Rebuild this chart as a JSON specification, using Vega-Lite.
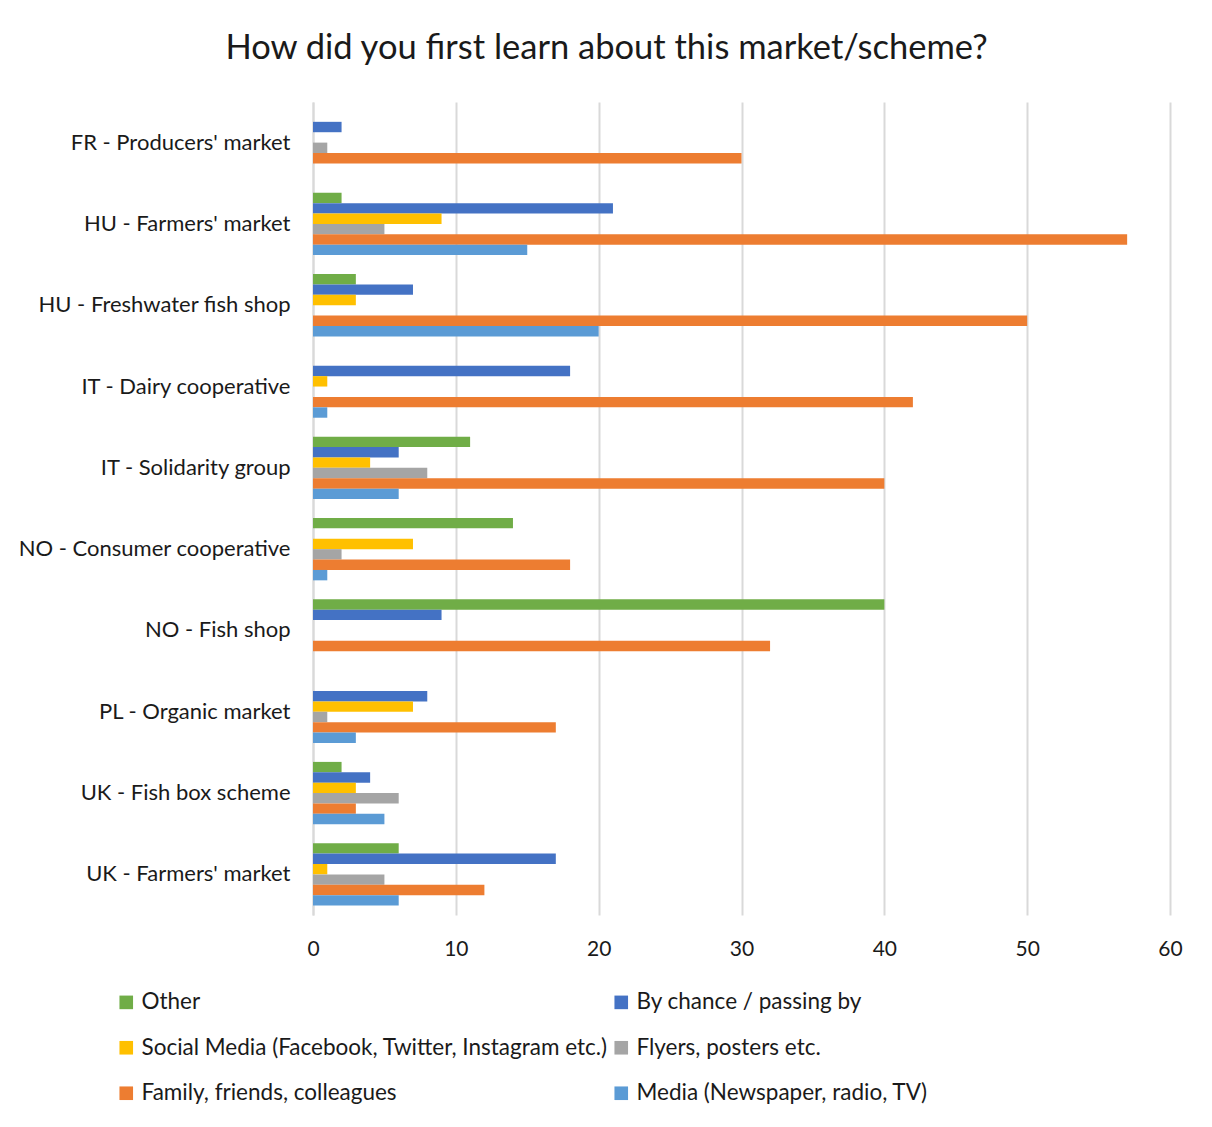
{
  "$schema": "https://vega.github.io/schema/vega-lite/v6.json",
  "autosize": {"type": "none"},
  "width": 857,
  "height": 813,
  "padding": {"left": 313, "top": 102, "right": 42, "bottom": 212},
  "background": "white",
  "title": {
    "text": "How did you first learn about this market/scheme?",
    "font": "Lato",
    "fontSize": 34.5,
    "fontWeight": "normal",
    "color": "#1a1a1a",
    "anchor": "middle",
    "dx": -135,
    "offset": 36
  },
  "data": {
    "values": [
      {"market": "FR - Producers' market", "source": "Other", "value": 0},
      {"market": "FR - Producers' market", "source": "By chance / passing by", "value": 2},
      {"market": "FR - Producers' market", "source": "Social Media (Facebook, Twitter, Instagram etc.)", "value": 0},
      {"market": "FR - Producers' market", "source": "Flyers, posters etc.", "value": 1},
      {"market": "FR - Producers' market", "source": "Family, friends, colleagues", "value": 30},
      {"market": "FR - Producers' market", "source": "Media (Newspaper, radio, TV)", "value": 0},
      {"market": "HU - Farmers' market", "source": "Other", "value": 2},
      {"market": "HU - Farmers' market", "source": "By chance / passing by", "value": 21},
      {"market": "HU - Farmers' market", "source": "Social Media (Facebook, Twitter, Instagram etc.)", "value": 9},
      {"market": "HU - Farmers' market", "source": "Flyers, posters etc.", "value": 5},
      {"market": "HU - Farmers' market", "source": "Family, friends, colleagues", "value": 57},
      {"market": "HU - Farmers' market", "source": "Media (Newspaper, radio, TV)", "value": 15},
      {"market": "HU - Freshwater fish shop", "source": "Other", "value": 3},
      {"market": "HU - Freshwater fish shop", "source": "By chance / passing by", "value": 7},
      {"market": "HU - Freshwater fish shop", "source": "Social Media (Facebook, Twitter, Instagram etc.)", "value": 3},
      {"market": "HU - Freshwater fish shop", "source": "Flyers, posters etc.", "value": 0},
      {"market": "HU - Freshwater fish shop", "source": "Family, friends, colleagues", "value": 50},
      {"market": "HU - Freshwater fish shop", "source": "Media (Newspaper, radio, TV)", "value": 20},
      {"market": "IT - Dairy cooperative", "source": "Other", "value": 0},
      {"market": "IT - Dairy cooperative", "source": "By chance / passing by", "value": 18},
      {"market": "IT - Dairy cooperative", "source": "Social Media (Facebook, Twitter, Instagram etc.)", "value": 1},
      {"market": "IT - Dairy cooperative", "source": "Flyers, posters etc.", "value": 0},
      {"market": "IT - Dairy cooperative", "source": "Family, friends, colleagues", "value": 42},
      {"market": "IT - Dairy cooperative", "source": "Media (Newspaper, radio, TV)", "value": 1},
      {"market": "IT - Solidarity group", "source": "Other", "value": 11},
      {"market": "IT - Solidarity group", "source": "By chance / passing by", "value": 6},
      {"market": "IT - Solidarity group", "source": "Social Media (Facebook, Twitter, Instagram etc.)", "value": 4},
      {"market": "IT - Solidarity group", "source": "Flyers, posters etc.", "value": 8},
      {"market": "IT - Solidarity group", "source": "Family, friends, colleagues", "value": 40},
      {"market": "IT - Solidarity group", "source": "Media (Newspaper, radio, TV)", "value": 6},
      {"market": "NO - Consumer cooperative", "source": "Other", "value": 14},
      {"market": "NO - Consumer cooperative", "source": "By chance / passing by", "value": 0},
      {"market": "NO - Consumer cooperative", "source": "Social Media (Facebook, Twitter, Instagram etc.)", "value": 7},
      {"market": "NO - Consumer cooperative", "source": "Flyers, posters etc.", "value": 2},
      {"market": "NO - Consumer cooperative", "source": "Family, friends, colleagues", "value": 18},
      {"market": "NO - Consumer cooperative", "source": "Media (Newspaper, radio, TV)", "value": 1},
      {"market": "NO - Fish shop", "source": "Other", "value": 40},
      {"market": "NO - Fish shop", "source": "By chance / passing by", "value": 9},
      {"market": "NO - Fish shop", "source": "Social Media (Facebook, Twitter, Instagram etc.)", "value": 0},
      {"market": "NO - Fish shop", "source": "Flyers, posters etc.", "value": 0},
      {"market": "NO - Fish shop", "source": "Family, friends, colleagues", "value": 32},
      {"market": "NO - Fish shop", "source": "Media (Newspaper, radio, TV)", "value": 0},
      {"market": "PL - Organic market", "source": "Other", "value": 0},
      {"market": "PL - Organic market", "source": "By chance / passing by", "value": 8},
      {"market": "PL - Organic market", "source": "Social Media (Facebook, Twitter, Instagram etc.)", "value": 7},
      {"market": "PL - Organic market", "source": "Flyers, posters etc.", "value": 1},
      {"market": "PL - Organic market", "source": "Family, friends, colleagues", "value": 17},
      {"market": "PL - Organic market", "source": "Media (Newspaper, radio, TV)", "value": 3},
      {"market": "UK -  Fish box scheme", "source": "Other", "value": 2},
      {"market": "UK -  Fish box scheme", "source": "By chance / passing by", "value": 4},
      {"market": "UK -  Fish box scheme", "source": "Social Media (Facebook, Twitter, Instagram etc.)", "value": 3},
      {"market": "UK -  Fish box scheme", "source": "Flyers, posters etc.", "value": 6},
      {"market": "UK -  Fish box scheme", "source": "Family, friends, colleagues", "value": 3},
      {"market": "UK -  Fish box scheme", "source": "Media (Newspaper, radio, TV)", "value": 5},
      {"market": "UK - Farmers' market", "source": "Other", "value": 6},
      {"market": "UK - Farmers' market", "source": "By chance / passing by", "value": 17},
      {"market": "UK - Farmers' market", "source": "Social Media (Facebook, Twitter, Instagram etc.)", "value": 1},
      {"market": "UK - Farmers' market", "source": "Flyers, posters etc.", "value": 5},
      {"market": "UK - Farmers' market", "source": "Family, friends, colleagues", "value": 12},
      {"market": "UK - Farmers' market", "source": "Media (Newspaper, radio, TV)", "value": 6}
    ]
  },
  "mark": {"type": "bar"},
  "encoding": {
    "y": {
      "field": "market",
      "type": "nominal",
      "sort": null,
      "scale": {"paddingInner": 0.233, "paddingOuter": 0.116},
      "axis": {
        "title": null,
        "labelFont": "Lato",
        "labelFontSize": 22,
        "labelColor": "#1a1a1a",
        "labelPadding": 23,
        "ticks": false,
        "domain": true,
        "domainColor": "#d9d9d9",
        "domainWidth": 2,
        "grid": false,
        "labelLimit": 400
      }
    },
    "yOffset": {
      "field": "source",
      "type": "nominal",
      "sort": ["Other", "By chance / passing by", "Social Media (Facebook, Twitter, Instagram etc.)", "Flyers, posters etc.", "Family, friends, colleagues", "Media (Newspaper, radio, TV)"],
      "scale": {"paddingInner": 0, "paddingOuter": 0}
    },
    "x": {
      "field": "value",
      "type": "quantitative",
      "scale": {"domain": [0, 60], "nice": false},
      "axis": {
        "title": null,
        "values": [0, 10, 20, 30, 40, 50, 60],
        "labelFont": "Lato",
        "labelFontSize": 21,
        "labelColor": "#1a1a1a",
        "labelPadding": 23,
        "labelFlush": false,
        "ticks": false,
        "domain": false,
        "grid": true,
        "gridColor": "#d9d9d9",
        "gridWidth": 2
      }
    },
    "color": {
      "field": "source",
      "type": "nominal",
      "scale": {
        "domain": ["Other", "Social Media (Facebook, Twitter, Instagram etc.)", "Family, friends, colleagues", "By chance / passing by", "Flyers, posters etc.", "Media (Newspaper, radio, TV)"],
        "range": ["#70AD47", "#FFC000", "#ED7D31", "#4472C4", "#A5A5A5", "#5B9BD5"]
      },
      "legend": {
        "title": null,
        "orient": "none",
        "legendX": -198,
        "legendY": 889,
        "columns": 2,
        "columnPadding": 2,
        "rowPadding": 22.5,
        "symbolType": "square",
        "symbolSize": 185,
        "symbolStrokeWidth": 0,
        "labelFont": "Lato",
        "labelFontSize": 22.5,
        "labelColor": "#1a1a1a",
        "labelOffset": 4,
        "labelLimit": 600
      }
    }
  },
  "config": {
    "view": {"stroke": null}
  }
}
